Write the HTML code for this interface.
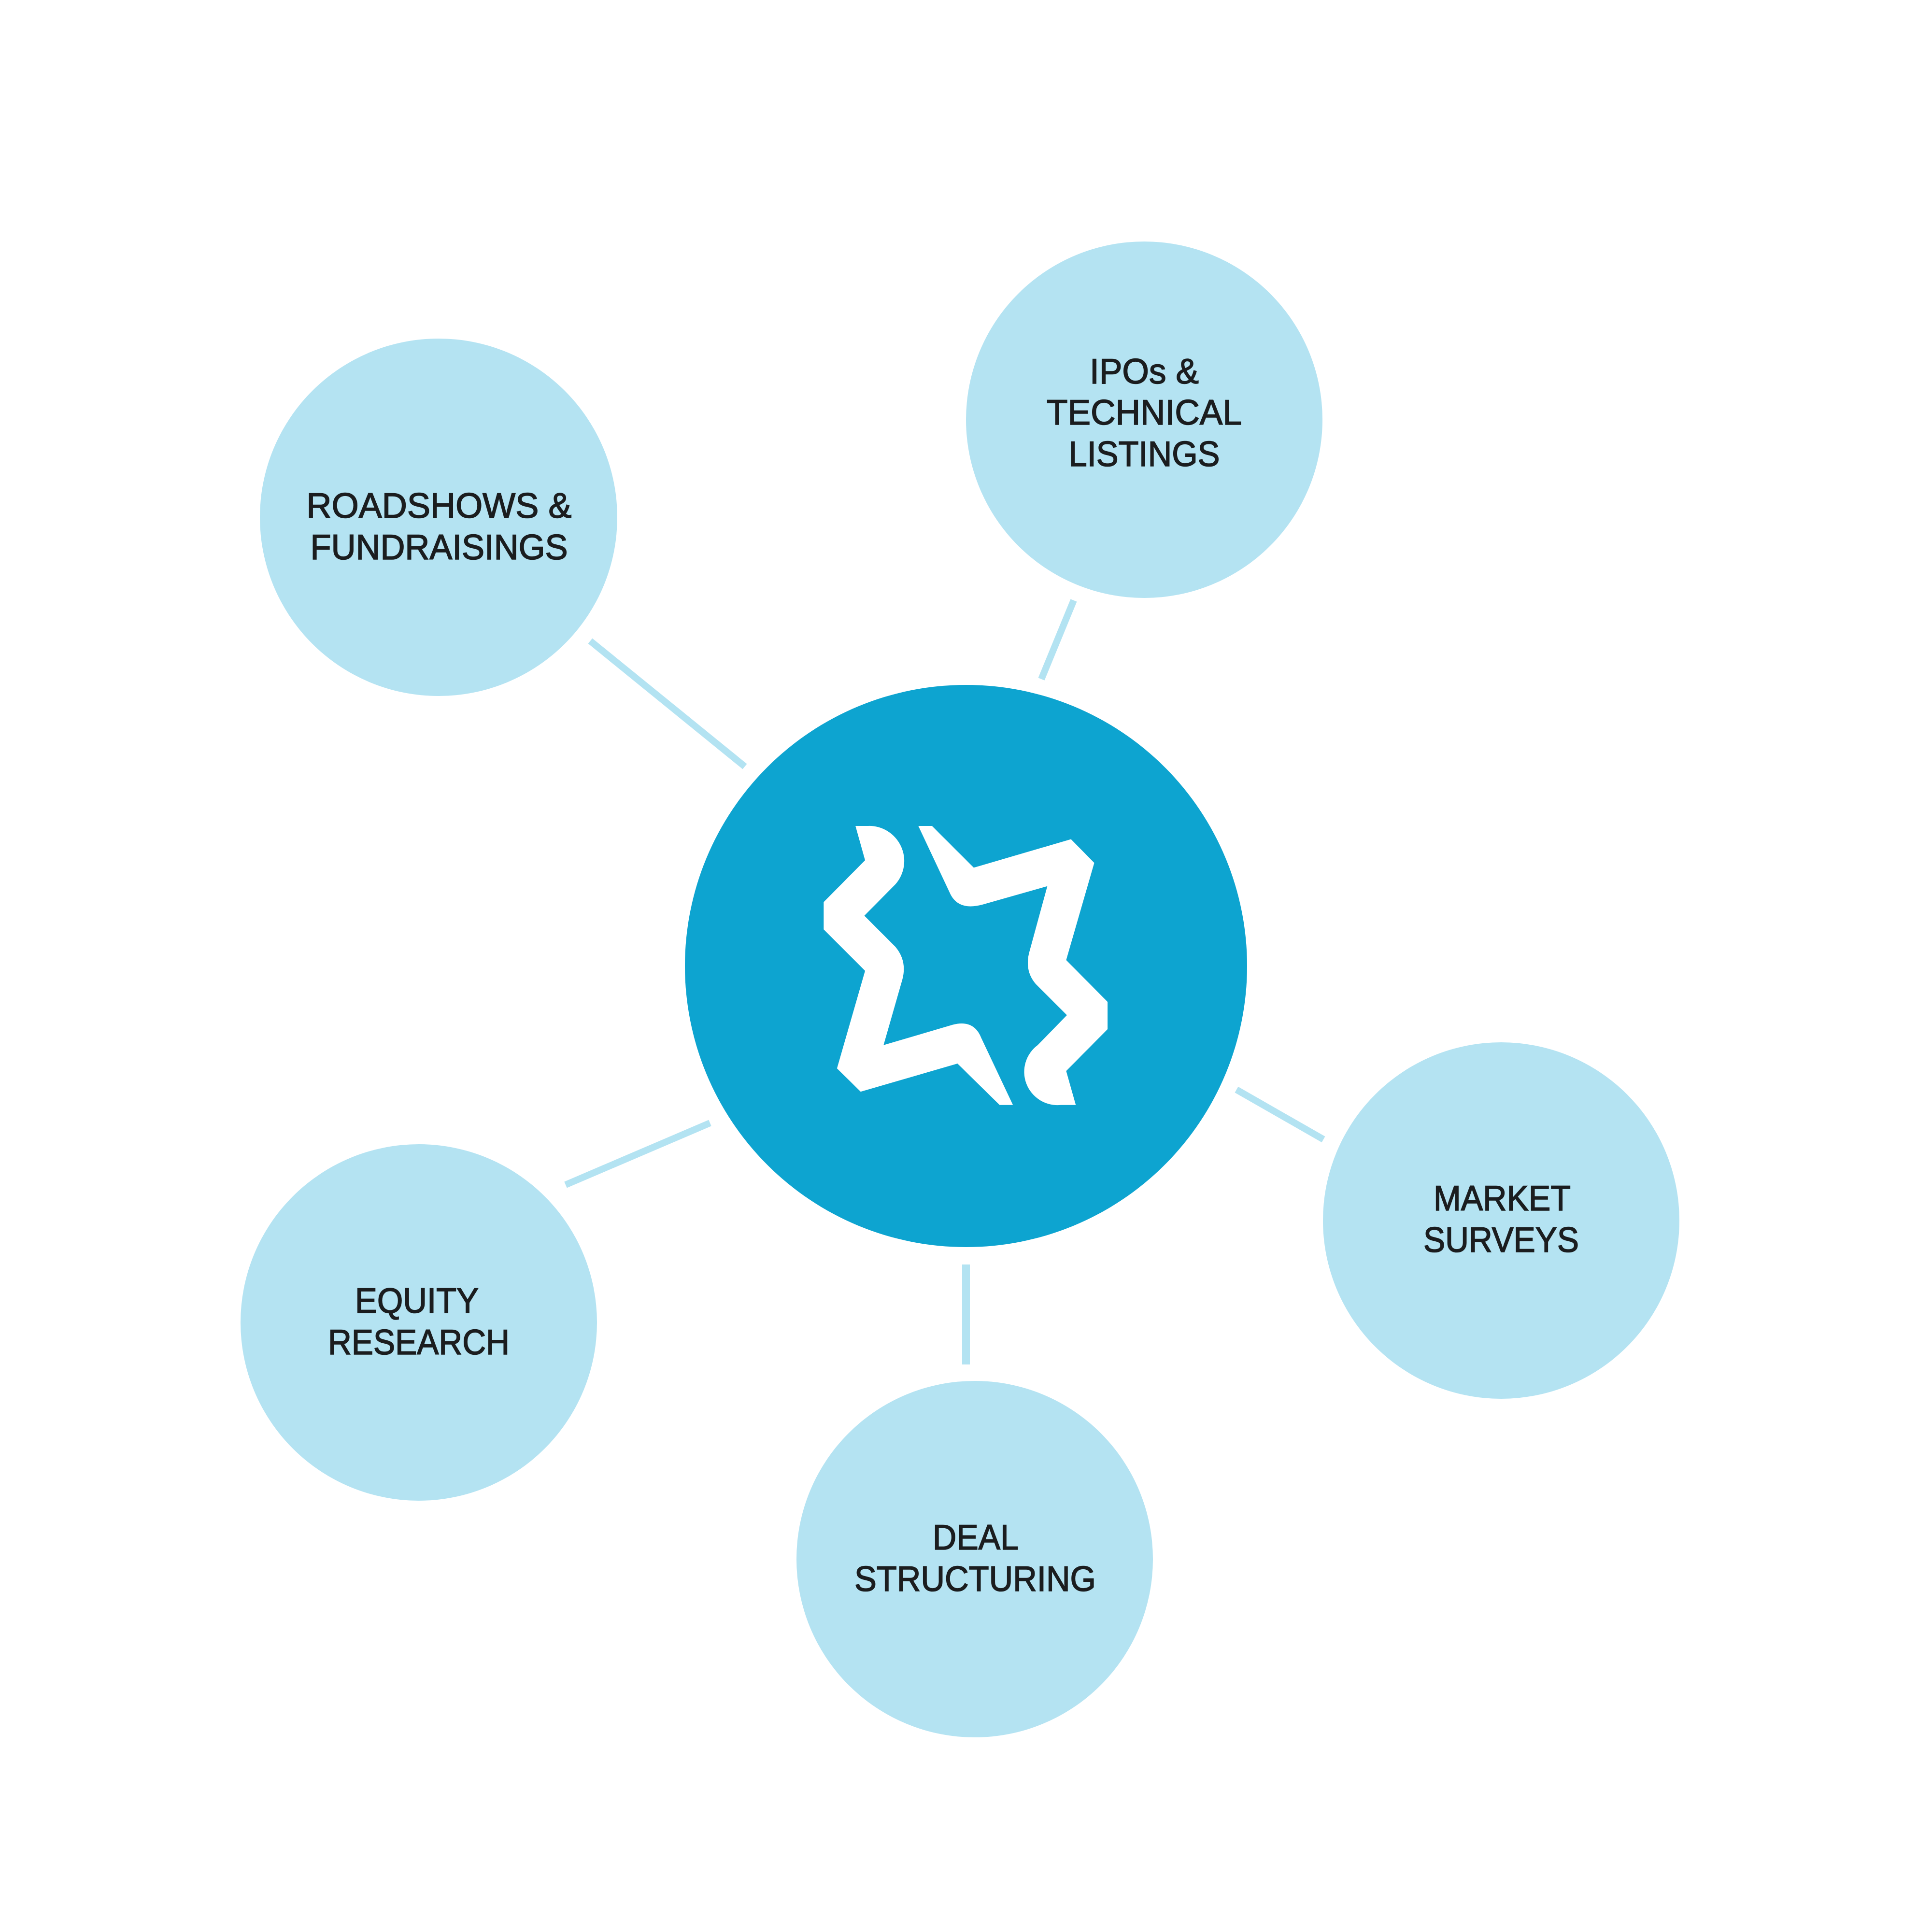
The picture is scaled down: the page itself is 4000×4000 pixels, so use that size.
<!DOCTYPE html>
<html><head><meta charset="utf-8"><style>html,body{margin:0;padding:0;background:#fff}svg{display:block}</style></head>
<body>
<svg width="4000" height="4000" viewBox="0 0 4000 4000" xmlns="http://www.w3.org/2000/svg">
<rect width="4000" height="4000" fill="#fff"/>
<g stroke="#b3e3f2" stroke-width="14" fill="none">
<line x1="1222" y1="1327" x2="1542" y2="1587"/>
<line x1="2223" y1="1243" x2="2156" y2="1406"/>
<line x1="2560" y1="2256" x2="2740" y2="2359"/>
<line x1="2000" y1="2618" x2="2000" y2="2825" stroke-width="16"/>
<line x1="1470" y1="2325" x2="1171" y2="2453"/>
</g>
<g fill="#b4e3f2">
<circle cx="908" cy="1071" r="370"/>
<circle cx="2369" cy="869" r="369"/>
<circle cx="3108" cy="2527" r="369"/>
<circle cx="2018" cy="3228" r="369"/>
<circle cx="867" cy="2738" r="369"/>
</g>
<circle cx="2000" cy="2000" r="582" fill="#0da4d0"/>
<g transform="translate(1400,1400) scale(0.7653)" fill="#fff">
<path d="M485,405 L520,405 A95,95 0 0 1 593,563 L509,648 L593,732 Q625,770 612,820 L561,998 L748,943 Q805,928 825,978 L911,1160 L875,1160 L761,1048 L499,1124 L435,1061 L511,797 L399,685 L399,611 L511,498 Z"/>
<path d="M655,405 L692,405 L805,518 L1068,441 L1131,505 L1055,768 L1167,881 L1167,955 L1055,1068 L1081,1160 L1040,1160 A90,90 0 0 1 978,998 L1057,917 L973,833 Q940,795 957,740 L1004,568 L828,618 Q765,635 742,590 Z"/>
</g>
<g font-family="'Liberation Sans', sans-serif" font-size="73" fill="#1b1d1f" stroke="#1b1d1f" stroke-width="1.6" text-anchor="middle">
<text x="909" y="1072" textLength="549" lengthAdjust="spacingAndGlyphs">ROADSHOWS &amp;</text>
<text x="909" y="1158" textLength="533" lengthAdjust="spacingAndGlyphs">FUNDRAISINGS</text>
<text x="2369" y="794" textLength="226" lengthAdjust="spacingAndGlyphs">IPOs &amp;</text>
<text x="2369" y="879" textLength="404" lengthAdjust="spacingAndGlyphs">TECHNICAL</text>
<text x="2369" y="965" textLength="313" lengthAdjust="spacingAndGlyphs">LISTINGS</text>
<text x="3110" y="2506" textLength="284" lengthAdjust="spacingAndGlyphs">MARKET</text>
<text x="3108" y="2592" textLength="322" lengthAdjust="spacingAndGlyphs">SURVEYS</text>
<text x="2020" y="3208" textLength="178" lengthAdjust="spacingAndGlyphs">DEAL</text>
<text x="2019" y="3294" textLength="500" lengthAdjust="spacingAndGlyphs">STRUCTURING</text>
<text x="863" y="2718" textLength="256" lengthAdjust="spacingAndGlyphs">EQUITY</text>
<text x="867" y="2804" textLength="376" lengthAdjust="spacingAndGlyphs">RESEARCH</text>
</g>
</svg>
</body></html>
